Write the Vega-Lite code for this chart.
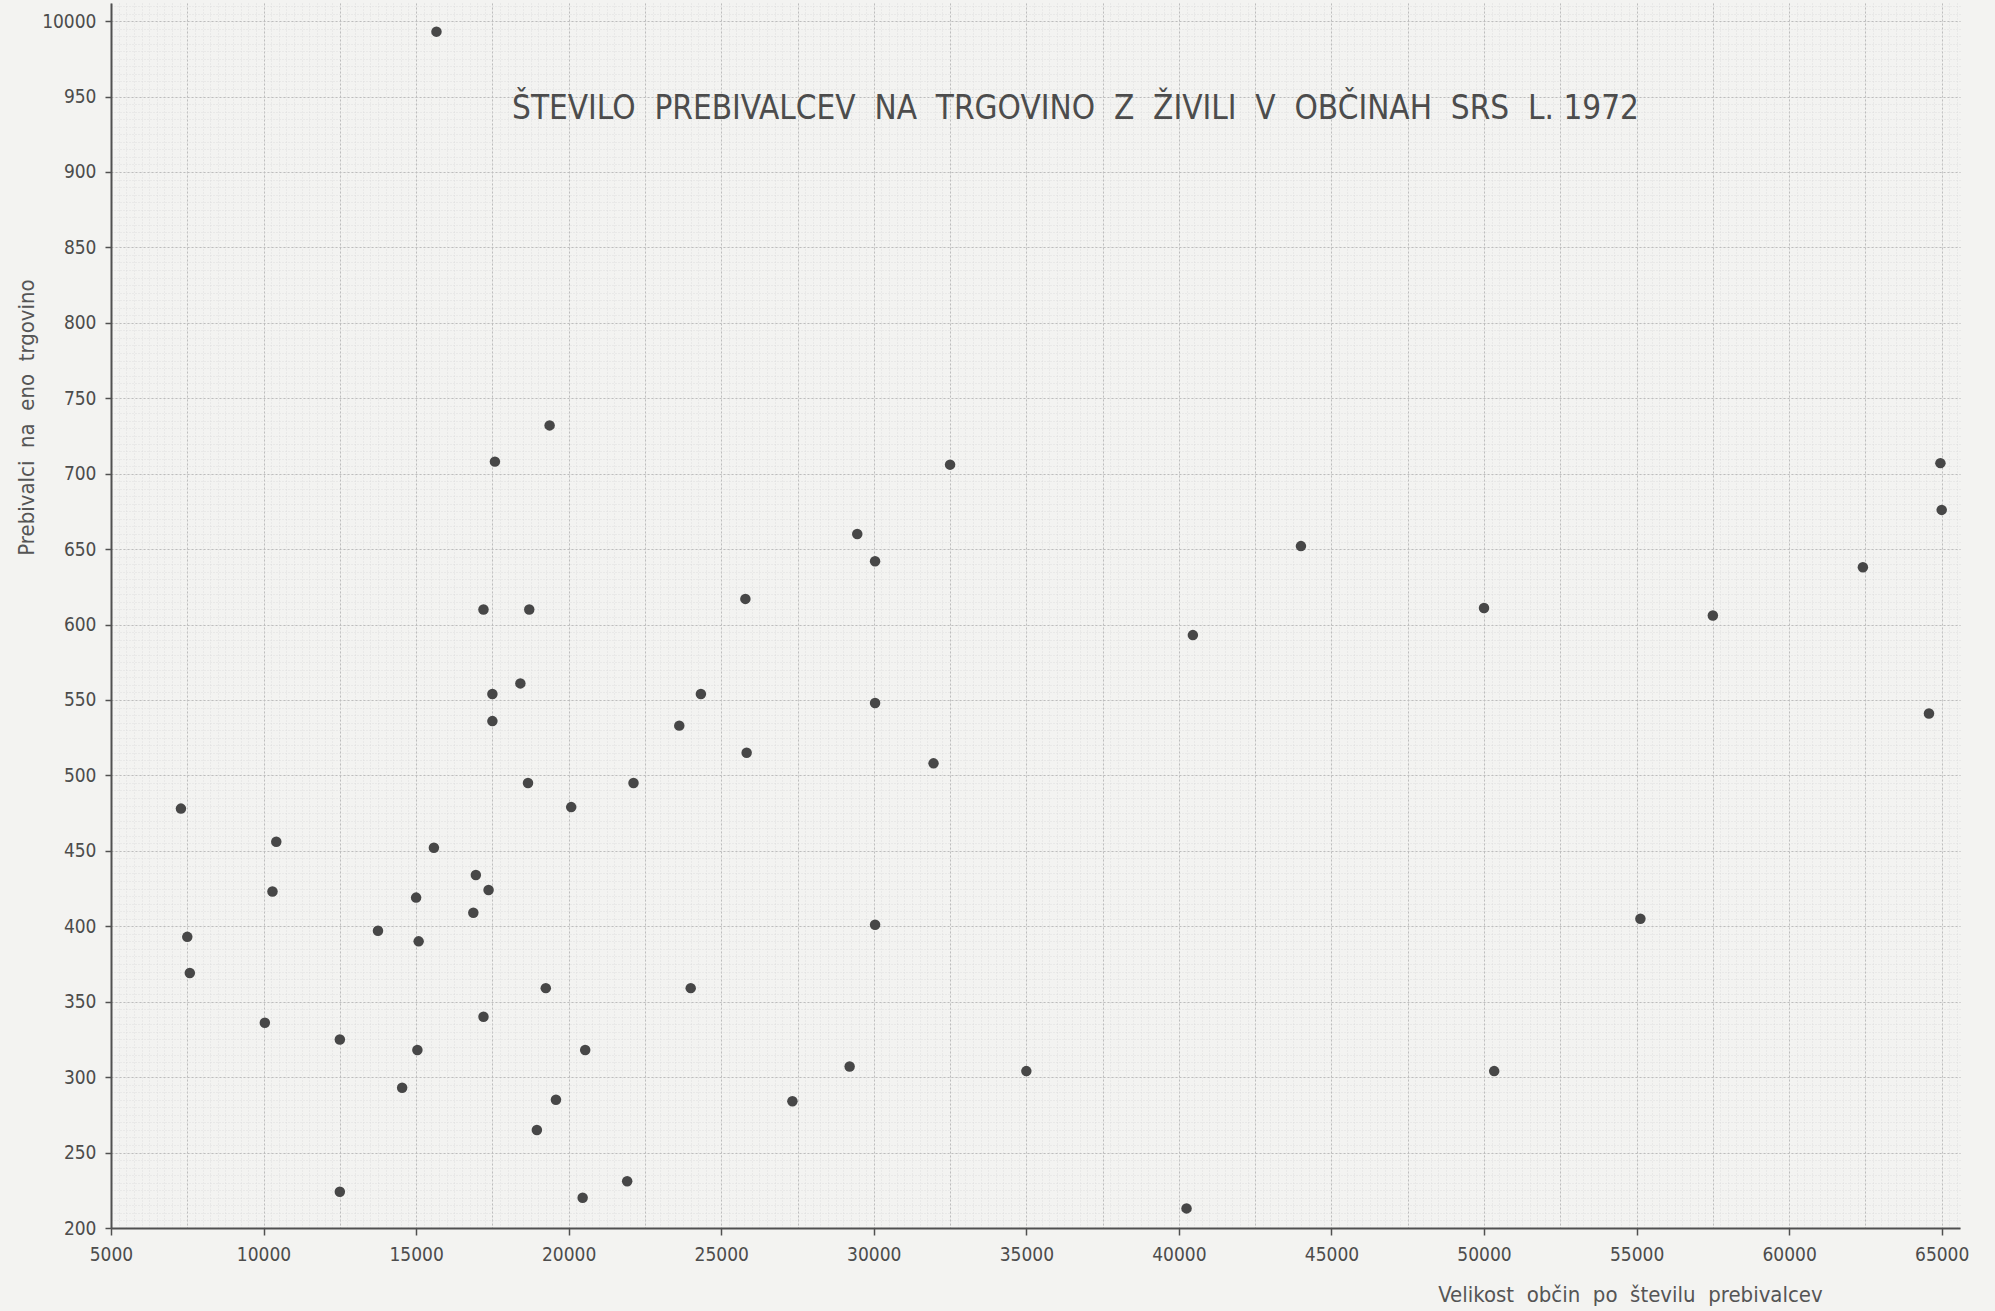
{
  "$schema": "https://vega.github.io/schema/vega-lite/v6.json",
  "width": 1849,
  "height": 1225,
  "autosize": {"type": "none"},
  "padding": {"left": 111, "top": 3, "right": 35, "bottom": 83},
  "background": "#f3f3f1",
  "config": {"view": {"stroke": null}, "font": "DejaVu Sans Condensed"},
  "title": {
    "text": "ŠTEVILO \u00a0PREBIVALCEV \u00a0NA \u00a0TRGOVINO \u00a0Z \u00a0ŽIVILI \u00a0V \u00a0OBČINAH \u00a0SRS \u00a0L. 1972",
    "anchor": "middle",
    "frame": "group",
    "offset": 0,
    "dx": 40,
    "dy": 139,
    "baseline": "middle",
    "fontSize": 33,
    "fontWeight": "normal",
    "color": "#4c4c4c",
    "font": "DejaVu Sans Condensed"
  },
  "data": {
    "values": [
      {"velikost": 15667, "prebivalci": 993},
      {"velikost": 19375, "prebivalci": 732},
      {"velikost": 17583, "prebivalci": 708},
      {"velikost": 32500, "prebivalci": 706},
      {"velikost": 64958, "prebivalci": 707},
      {"velikost": 65000, "prebivalci": 676},
      {"velikost": 29458, "prebivalci": 660},
      {"velikost": 30042, "prebivalci": 642},
      {"velikost": 44000, "prebivalci": 652},
      {"velikost": 62417, "prebivalci": 638},
      {"velikost": 25792, "prebivalci": 617},
      {"velikost": 17208, "prebivalci": 610},
      {"velikost": 18708, "prebivalci": 610},
      {"velikost": 50000, "prebivalci": 611},
      {"velikost": 57500, "prebivalci": 606},
      {"velikost": 40458, "prebivalci": 593},
      {"velikost": 18417, "prebivalci": 561},
      {"velikost": 17500, "prebivalci": 554},
      {"velikost": 24333, "prebivalci": 554},
      {"velikost": 30042, "prebivalci": 548},
      {"velikost": 64583, "prebivalci": 541},
      {"velikost": 17500, "prebivalci": 536},
      {"velikost": 23625, "prebivalci": 533},
      {"velikost": 25833, "prebivalci": 515},
      {"velikost": 31958, "prebivalci": 508},
      {"velikost": 18667, "prebivalci": 495},
      {"velikost": 22125, "prebivalci": 495},
      {"velikost": 7292, "prebivalci": 478},
      {"velikost": 20083, "prebivalci": 479},
      {"velikost": 10417, "prebivalci": 456},
      {"velikost": 15583, "prebivalci": 452},
      {"velikost": 16958, "prebivalci": 434},
      {"velikost": 17375, "prebivalci": 424},
      {"velikost": 10292, "prebivalci": 423},
      {"velikost": 15000, "prebivalci": 419},
      {"velikost": 16875, "prebivalci": 409},
      {"velikost": 55125, "prebivalci": 405},
      {"velikost": 30042, "prebivalci": 401},
      {"velikost": 13750, "prebivalci": 397},
      {"velikost": 7500, "prebivalci": 393},
      {"velikost": 15083, "prebivalci": 390},
      {"velikost": 7583, "prebivalci": 369},
      {"velikost": 19250, "prebivalci": 359},
      {"velikost": 24000, "prebivalci": 359},
      {"velikost": 10042, "prebivalci": 336},
      {"velikost": 17208, "prebivalci": 340},
      {"velikost": 12500, "prebivalci": 325},
      {"velikost": 15042, "prebivalci": 318},
      {"velikost": 20542, "prebivalci": 318},
      {"velikost": 14542, "prebivalci": 293},
      {"velikost": 29208, "prebivalci": 307},
      {"velikost": 35000, "prebivalci": 304},
      {"velikost": 50333, "prebivalci": 304},
      {"velikost": 19583, "prebivalci": 285},
      {"velikost": 27333, "prebivalci": 284},
      {"velikost": 18958, "prebivalci": 265},
      {"velikost": 21917, "prebivalci": 231},
      {"velikost": 12500, "prebivalci": 224},
      {"velikost": 20458, "prebivalci": 220},
      {"velikost": 40250, "prebivalci": 213}
    ]
  },
  "resolve": {"axis": {"x": "independent", "y": "independent"}},
  "layer": [
    {
      "mark": {"type": "circle", "opacity": 0},
      "encoding": {
        "x": {
          "field": "velikost",
          "type": "quantitative",
          "scale": {"domain": [5000, 65600], "nice": false, "zero": false},
          "axis": {
            "orient": "bottom",
            "values": [5000,5250,5500,5750,6000,6250,6500,6750,7000,7250,7500,7750,8000,8250,8500,8750,9000,9250,9500,9750,10000,10250,10500,10750,11000,11250,11500,11750,12000,12250,12500,12750,13000,13250,13500,13750,14000,14250,14500,14750,15000,15250,15500,15750,16000,16250,16500,16750,17000,17250,17500,17750,18000,18250,18500,18750,19000,19250,19500,19750,20000,20250,20500,20750,21000,21250,21500,21750,22000,22250,22500,22750,23000,23250,23500,23750,24000,24250,24500,24750,25000,25250,25500,25750,26000,26250,26500,26750,27000,27250,27500,27750,28000,28250,28500,28750,29000,29250,29500,29750,30000,30250,30500,30750,31000,31250,31500,31750,32000,32250,32500,32750,33000,33250,33500,33750,34000,34250,34500,34750,35000,35250,35500,35750,36000,36250,36500,36750,37000,37250,37500,37750,38000,38250,38500,38750,39000,39250,39500,39750,40000,40250,40500,40750,41000,41250,41500,41750,42000,42250,42500,42750,43000,43250,43500,43750,44000,44250,44500,44750,45000,45250,45500,45750,46000,46250,46500,46750,47000,47250,47500,47750,48000,48250,48500,48750,49000,49250,49500,49750,50000,50250,50500,50750,51000,51250,51500,51750,52000,52250,52500,52750,53000,53250,53500,53750,54000,54250,54500,54750,55000,55250,55500,55750,56000,56250,56500,56750,57000,57250,57500,57750,58000,58250,58500,58750,59000,59250,59500,59750,60000,60250,60500,60750,61000,61250,61500,61750,62000,62250,62500,62750,63000,63250,63500,63750,64000,64250,64500,64750,65000,65250,65500],
            "grid": true,
            "gridColor": "#d8d8d8",
            "gridWidth": 0.7,
            "gridDash": [1, 2],
            "domain": false,
            "ticks": false,
            "labels": false,
            "title": null,
            "zindex": 0
          }
        },
        "y": {
          "field": "prebivalci",
          "type": "quantitative",
          "scale": {"domain": [200, 1012], "nice": false, "zero": false},
          "axis": {
            "orient": "left",
            "tickCount": 160,
            "grid": true,
            "gridColor": "#d8d8d8",
            "gridWidth": 0.7,
            "gridDash": [1, 2],
            "domain": false,
            "ticks": false,
            "labels": false,
            "title": null,
            "zindex": 0
          }
        }
      }
    },
    {
      "mark": {"type": "circle", "opacity": 0},
      "encoding": {
        "x": {
          "field": "velikost",
          "type": "quantitative",
          "axis": {
            "orient": "bottom",
            "values": [5000,7500,10000,12500,15000,17500,20000,22500,25000,27500,30000,32500,35000,37500,40000,42500,45000,47500,50000,52500,55000,57500,60000,62500,65000],
            "grid": true,
            "gridColor": "#bdbdbd",
            "gridWidth": 1,
            "gridDash": [2, 2],
            "domain": false,
            "ticks": false,
            "labels": false,
            "title": null,
            "zindex": 0
          }
        },
        "y": {
          "field": "prebivalci",
          "type": "quantitative",
          "axis": {
            "orient": "left",
            "values": [200,250,300,350,400,450,500,550,600,650,700,750,800,850,900,950,1000],
            "grid": true,
            "gridColor": "#bdbdbd",
            "gridWidth": 1,
            "gridDash": [2, 2],
            "domain": false,
            "ticks": false,
            "labels": false,
            "title": null,
            "zindex": 0
          }
        }
      }
    },
    {
      "mark": {"type": "circle", "size": 110, "color": "#474747", "opacity": 1},
      "encoding": {
        "x": {
          "field": "velikost",
          "type": "quantitative",
          "axis": {
            "orient": "bottom",
            "values": [5000,10000,15000,20000,25000,30000,35000,40000,45000,50000,55000,60000,65000],
            "format": "d",
            "grid": false,
            "domain": true,
            "domainColor": "#505050",
            "domainWidth": 2,
            "ticks": true,
            "tickColor": "#505050",
            "tickWidth": 1.5,
            "tickSize": 7,
            "labelFlush": false,
            "labelOverlap": false,
            "labelFontSize": 19,
            "labelColor": "#4c4c4c",
            "labelPadding": 10,
            "labelFont": "DejaVu Sans Condensed",
            "title": "Velikost \u00a0občin \u00a0po \u00a0številu \u00a0prebivalcev",
            "titleFont": "DejaVu Sans Condensed",
            "titleFontSize": 22,
            "titleFontWeight": "normal",
            "titleColor": "#555555",
            "titleX": 1519,
            "titleY": 66,
            "titleAlign": "center",
            "titleBaseline": "middle",
            "zindex": 1
          }
        },
        "y": {
          "field": "prebivalci",
          "type": "quantitative",
          "axis": {
            "orient": "left",
            "values": [200,250,300,350,400,450,500,550,600,650,700,750,800,850,900,950,1000],
            "labelExpr": "datum.value == 1000 ? '10000' : datum.label",
            "grid": false,
            "domain": true,
            "domainColor": "#505050",
            "domainWidth": 2,
            "ticks": true,
            "tickColor": "#505050",
            "tickWidth": 1.5,
            "tickSize": 6,
            "labelFlush": false,
            "labelOverlap": false,
            "labelFontSize": 19,
            "labelColor": "#4c4c4c",
            "labelPadding": 9,
            "labelFont": "DejaVu Sans Condensed",
            "title": "Prebivalci \u00a0na \u00a0eno \u00a0trgovino",
            "titleFont": "DejaVu Sans Condensed",
            "titleFontSize": 22,
            "titleFontWeight": "normal",
            "titleColor": "#555555",
            "titleAngle": -90,
            "titleX": -85,
            "titleY": 414,
            "titleAlign": "center",
            "titleBaseline": "middle",
            "zindex": 1
          }
        }
      }
    }
  ]
}
